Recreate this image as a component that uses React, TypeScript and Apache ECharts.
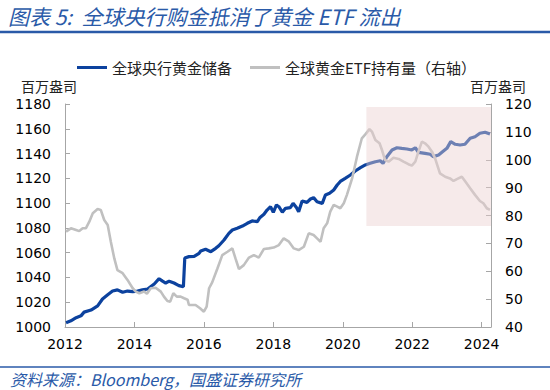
import React, { useEffect, useRef } from "react";
import * as echarts from "echarts";

// ---- Data ----
const reserveYears = [
  2012.03, 2012.17, 2012.32, 2012.46, 2012.55, 2012.75, 2012.94, 2013.08, 2013.23, 2013.37,
  2013.51, 2013.66, 2013.8, 2013.95, 2014.09, 2014.23, 2014.38, 2014.57, 2014.71, 2014.81,
  2014.9, 2015.0, 2015.14, 2015.28, 2015.41, 2015.45, 2015.57, 2015.72, 2015.86, 2015.91,
  2016.05, 2016.2, 2016.34, 2016.43, 2016.58, 2016.72, 2016.82, 2016.96, 2017.11, 2017.25,
  2017.39, 2017.54, 2017.61, 2017.73, 2017.82, 2017.92, 2018.0, 2018.09, 2018.16, 2018.26,
  2018.35, 2018.49, 2018.57, 2018.67, 2018.73, 2018.83, 2018.97, 2019.07, 2019.16, 2019.26,
  2019.41, 2019.5, 2019.62, 2019.74, 2019.84, 2019.93, 2020.07, 2020.22, 2020.36, 2020.51,
  2020.65, 2020.79, 2020.94, 2021.08, 2021.16, 2021.27, 2021.42, 2021.56, 2021.7, 2021.85,
  2021.99, 2022.09, 2022.18, 2022.37, 2022.52, 2022.61, 2022.76, 2022.9, 2023.0, 2023.11,
  2023.24, 2023.38, 2023.52, 2023.67, 2023.81, 2023.95, 2024.1, 2024.24,
];
const reserveValues = [
  1003.5, 1005, 1007.5, 1009, 1012, 1013.7, 1017, 1022.6, 1026, 1029,
  1030, 1028, 1029, 1028.5, 1029, 1030, 1030.7, 1034.7, 1039, 1037,
  1035.5, 1037, 1035.5, 1033.4, 1032.5, 1055.7, 1056.8, 1057, 1059.4, 1061.3,
  1062.7, 1060.8, 1063.5, 1065.6, 1070.2, 1075.6, 1078.3, 1079.7, 1081.5, 1083.7,
  1085.6, 1085, 1088.2, 1091, 1094.4, 1097.1, 1092.6, 1098.5, 1097.1, 1092.6,
  1095.8, 1096.3, 1099.8, 1096.3, 1093.1, 1101.7, 1100.6, 1103.3, 1104.4, 1101.1,
  1099.8, 1106.5, 1107.9, 1110.6, 1114.6, 1117.5, 1120, 1122.7, 1125.9, 1128.6,
  1130.8, 1132.1, 1133.4, 1134.2, 1132.1, 1137.5, 1142.9, 1144.7, 1144.2, 1143.7,
  1142.9, 1144.7, 1141, 1140.2, 1139.4, 1137.5, 1138.8, 1142, 1144.2, 1149.6,
  1147.5, 1146.9, 1147.5, 1152.3, 1153.6, 1156.4, 1157.2, 1155.8,
];

const etfYears = [
  2012.03, 2012.17, 2012.32, 2012.41, 2012.51, 2012.6, 2012.7, 2012.8, 2012.94, 2013.03,
  2013.13, 2013.23, 2013.32, 2013.42, 2013.51, 2013.66, 2013.8, 2013.95, 2014.04, 2014.14,
  2014.28, 2014.36, 2014.47, 2014.61, 2014.76, 2014.85, 2014.95, 2015.03, 2015.12, 2015.22,
  2015.33, 2015.43, 2015.53, 2015.57, 2015.76, 2015.89, 2016.0, 2016.08, 2016.15, 2016.24,
  2016.39, 2016.53, 2016.68, 2016.82, 2016.91, 2017.01, 2017.15, 2017.3, 2017.44, 2017.58,
  2017.73, 2017.87, 2018.01, 2018.16, 2018.3, 2018.45, 2018.59, 2018.73, 2018.88, 2019.02,
  2019.16, 2019.26, 2019.36, 2019.45, 2019.55, 2019.64, 2019.74, 2019.84, 2019.93, 2020.03,
  2020.12, 2020.27, 2020.41, 2020.55, 2020.65, 2020.77, 2020.84, 2020.94, 2021.06, 2021.13,
  2021.22, 2021.32, 2021.46, 2021.61, 2021.75, 2021.89, 2021.99, 2022.09, 2022.18, 2022.28,
  2022.37, 2022.47, 2022.57, 2022.66, 2022.8, 2022.95, 2023.09, 2023.19, 2023.33, 2023.43,
  2023.52, 2023.67, 2023.81, 2023.95, 2024.05, 2024.15, 2024.24,
];
const etfValues = [
  74.2, 75.4, 74.8, 74.4, 75.4, 75.4, 77.8, 80.8, 82.3, 82,
  78.4, 76.6, 70.6, 64.6, 60.4, 59.3, 56.9, 53.9, 52.7, 52.1,
  52.7, 51.9, 53.9, 54.1, 52.7, 50.9, 49.3, 49.1, 52.1, 50.9,
  50.9, 50.3, 49.8, 47.9, 47.9, 46.7, 45.5, 47.3, 53.9, 56,
  61, 65.8, 67, 68.2, 64.6, 60.8, 62.2, 64.9, 65.8, 64.9,
  68, 68.2, 68.5, 69.4, 71.8, 70.6, 68.2, 67.6, 68.8, 73.6,
  73, 71.8, 70.6, 75.4, 77.2, 81.4, 83.8, 83.2, 82.6, 84.4,
  87.4, 93.3, 101.1, 107.7, 109.1, 111, 110.1, 107.1, 105.9, 103.5,
  99.9, 99.3, 100.7, 100.3, 99.3, 98.4, 97.9, 99.3, 102.9, 106.5,
  105.9, 104.7, 102.9, 100.5, 95.1, 93.9, 93.3, 92.4, 93.3, 93.9,
  92.4, 89.8, 87.4, 85.2, 84.4, 82.6, 82,
];

const seriesNames = ["全球央行黄金储备", "全球黄金ETF持有量（右轴）"];
const yearRange = [2012, 2024.27];
const leftRange = [1000, 1180];
const rightRange = [40, 120];
// shaded period (start year, end year, left-axis low, left-axis high)
const highlightYears = [2020.68, 2024.27];
const highlightLeft = [1081.5, 1177.5];

const TITLE = "图表 5:  全球央行购金抵消了黄金 ETF 流出";
const SOURCE = "资料来源：Bloomberg，国盛证券研究所";
const UNIT = "百万盎司";

const BLUE = "#0C429E";
const GRAY = "#C0C0C0";
const HEAD = "#2A5AA8";
const AXIS = "#A6A6A6";
const CJK = "'Noto Sans CJK SC', 'Noto Sans', sans-serif";
const NUM = "'DejaVu Sans', sans-serif";

export default function App() {
  const ref = useRef<HTMLDivElement>(null);

  useEffect(() => {
    if (!ref.current) return;
    const chart = echarts.init(ref.current, null, { renderer: "svg" });

    const reserveData = reserveYears.map((x, i) => [x, reserveValues[i]]);
    const etfData = etfYears.map((x, i) => [x, etfValues[i]]);

    const axisCommon = {
      type: "value" as const,
      axisLine: { show: true, lineStyle: { color: AXIS, width: 1 } },
      axisTick: { show: true, inside: true, length: 5, lineStyle: { color: AXIS } },
      splitLine: { show: false },
      axisLabel: {
        color: "#000",
        fontSize: 14,
        fontFamily: NUM,
        margin: 14,
        formatter: (v: number) => String(v),
      },
    };

    chart.setOption({
      animation: false,
      backgroundColor: "#fff",
      grid: { left: 65, right: 59, top: 104, bottom: 63, containLabel: false },
      legend: {
        data: seriesNames,
        left: 72,
        top: 55,
        icon: "rect",
        itemWidth: 30,
        itemHeight: 3,
        itemGap: 18,
        textStyle: { fontSize: 15, color: "#222", fontFamily: CJK },
      },
      xAxis: {
        ...axisCommon,
        min: yearRange[0],
        max: yearRange[1],
        interval: 2,
        axisLabel: {
          color: "#000",
          fontSize: 14,
          fontFamily: NUM,
          margin: 10,
          showMaxLabel: false,
          formatter: (v: number) =>
            Number.isInteger(v) && v % 2 === 0 ? String(v) : "",
        },
      },
      yAxis: [
        {
          ...axisCommon,
          position: "left",
          min: leftRange[0],
          max: leftRange[1],
          interval: 20,
        },
        {
          ...axisCommon,
          position: "right",
          min: rightRange[0],
          max: rightRange[1],
          interval: 10,
        },
      ],
      series: [
        {
          name: seriesNames[0],
          type: "line",
          yAxisIndex: 0,
          data: reserveData,
          showSymbol: false,
          symbol: "none",
          z: 2,
          itemStyle: { color: BLUE },
          lineStyle: { color: BLUE, width: 3.2 },
        },
        {
          name: seriesNames[1],
          type: "line",
          yAxisIndex: 1,
          data: etfData,
          showSymbol: false,
          symbol: "none",
          z: 3,
          itemStyle: { color: GRAY },
          lineStyle: { color: GRAY, width: 2.6 },
        },
        {
          name: "highlight",
          type: "line",
          yAxisIndex: 0,
          data: [],
          z: 10,
          silent: true,
          markArea: {
            silent: true,
            z: 10,
            itemStyle: { color: "rgba(234,208,208,0.44)" },
            data: [
              [
                { xAxis: highlightYears[0], yAxis: highlightLeft[1] },
                { xAxis: highlightYears[1], yAxis: highlightLeft[0] },
              ],
            ],
          },
        },
      ],
      graphic: [
        {
          type: "text",
          left: 8,
          top: 5,
          style: {
            text: TITLE,
            fill: HEAD,
            font: `italic 21px ${CJK}`,
          },
        },
        {
          type: "line",
          shape: { x1: 0, y1: 32, x2: 550, y2: 32 },
          style: { stroke: HEAD, lineWidth: 2.5 },
        },
        {
          type: "text",
          x: 21,
          y: 86,
          style: {
            text: UNIT,
            fill: "#222",
            font: `14px ${CJK}`,
            verticalAlign: "middle",
          },
        },
        {
          type: "text",
          x: 470,
          y: 86,
          style: {
            text: UNIT,
            fill: "#222",
            font: `14px ${CJK}`,
            verticalAlign: "middle",
          },
        },
        {
          type: "line",
          shape: { x1: 0, y1: 367, x2: 550, y2: 367 },
          style: { stroke: HEAD, lineWidth: 1.5 },
        },
        {
          type: "text",
          x: 10,
          y: 379,
          style: {
            text: SOURCE,
            fill: HEAD,
            font: `italic 16px ${CJK}`,
            verticalAlign: "middle",
          },
        },
      ],
    });

    return () => chart.dispose();
  }, []);

  return (
    <div
      ref={ref}
      style={{ position: "absolute", left: 0, top: 0, width: 550, height: 390 }}
    />
  );
}
